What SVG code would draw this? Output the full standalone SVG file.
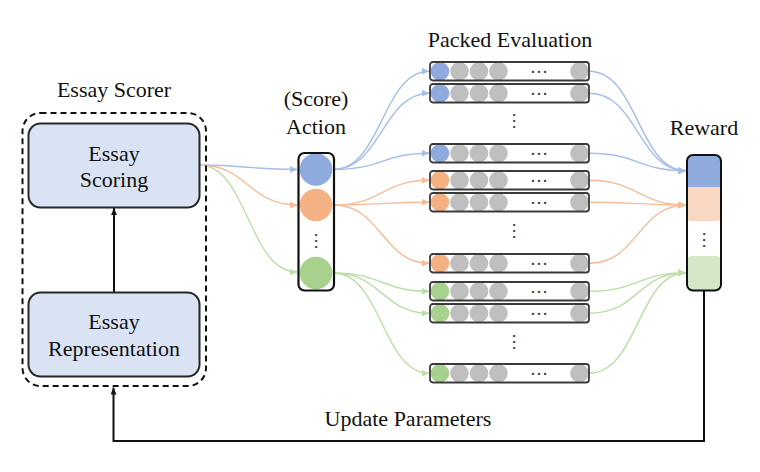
<svg xmlns="http://www.w3.org/2000/svg" width="760" height="472" viewBox="0 0 760 472">
  <style>
    .lbl { font-family: "Liberation Serif", "Times New Roman", serif; font-size: 22px; fill: #111; text-anchor: middle; }
    .dots { font-family: "Liberation Serif", "Times New Roman", serif; font-size: 18px; fill: #333; text-anchor: middle; }
    .box { fill: #DAE3F3; stroke: #262626; stroke-width: 2; }
    .row { fill: none; stroke: #3a3a3a; stroke-width: 1.8; }
    .gray { fill: #BFBFBF; }
    .blue { fill: #8FAADC; }
    .orange { fill: #F4B183; }
    .green { fill: #A9D18E; }
    .cb { fill: none; stroke: #A6BDE8; stroke-width: 1.4; marker-end: url(#arB); }
    .co { fill: none; stroke: #F6BC98; stroke-width: 1.4; marker-end: url(#arO); }
    .cg { fill: none; stroke: #BCDDA8; stroke-width: 1.4; marker-end: url(#arG); }
    .blk { fill: none; stroke: #111; stroke-width: 2; }
  </style>
  <defs>
    <marker id="arB" markerUnits="userSpaceOnUse" markerWidth="8" markerHeight="7" refX="8" refY="3.5" orient="auto"><path d="M0,0 L8,3.5 L0,7 z" fill="#A6BDE8"/></marker>
    <marker id="arO" markerUnits="userSpaceOnUse" markerWidth="8" markerHeight="7" refX="8" refY="3.5" orient="auto"><path d="M0,0 L8,3.5 L0,7 z" fill="#F6BC98"/></marker>
    <marker id="arG" markerUnits="userSpaceOnUse" markerWidth="8" markerHeight="7" refX="8" refY="3.5" orient="auto"><path d="M0,0 L8,3.5 L0,7 z" fill="#BCDDA8"/></marker>
    <marker id="arK" markerUnits="userSpaceOnUse" markerWidth="7" markerHeight="6" refX="7" refY="3" orient="auto"><path d="M0,0 L7,3 L0,6 z" fill="#111"/></marker>
    <clipPath id="rewardClip"><rect x="687" y="155" width="34" height="135.5" rx="6"/></clipPath>
    <!-- gray cells and ellipsis of a packed-evaluation row, drawn at origin -->
    <g id="rowBody">
      <circle class="gray" cx="29.5" cy="9.25" r="9.3"/>
      <circle class="gray" cx="49" cy="9.25" r="9.3"/>
      <circle class="gray" cx="68.5" cy="9.25" r="9.3"/>
      <circle class="gray" cx="149.5" cy="9.25" r="9.3"/>
      <text class="dots" x="109" y="11">…</text>
    </g>
  </defs>

  <!-- titles -->
  <text class="lbl" x="114" y="97">Essay Scorer</text>
  <text class="lbl" x="316" y="106">(Score)</text>
  <text class="lbl" x="316" y="134">Action</text>
  <text class="lbl" x="510" y="47">Packed Evaluation</text>
  <text class="lbl" x="704" y="135">Reward</text>
  <text class="lbl" x="408" y="426">Update Parameters</text>

  <!-- connectors -->
  <g id="connectors">
    <!-- scorer to action -->
    <path class="cb" d="M199,165 C248,165 248,169.5 297.5,169.5"/>
    <path class="co" d="M199,165 C248,165 248,205 297.5,205"/>
    <path class="cg" d="M199,165 C248,165 248,272 297.5,272"/>
    <!-- action to packed rows -->
    <path class="cb" d="M333,169.5 C382,169.5 382,71.3 429.5,71.3"/>
    <path class="cb" d="M333,169.5 C382,169.5 382,93.3 429.5,93.3"/>
    <path class="cb" d="M333,169.5 C382,169.5 382,153.3 429.5,153.3"/>
    <path class="co" d="M333,205 C382,205 382,180.3 429.5,180.3"/>
    <path class="co" d="M333,205 C382,205 382,202.3 429.5,202.3"/>
    <path class="co" d="M333,205 C382,205 382,263.3 429.5,263.3"/>
    <path class="cg" d="M333,273 C382,273 382,291.3 429.5,291.3"/>
    <path class="cg" d="M333,273 C382,273 382,313.3 429.5,313.3"/>
    <path class="cg" d="M333,273 C382,273 382,373.3 429.5,373.3"/>
    <!-- packed rows to reward -->
    <path class="cb" d="M589,71.3 C638,71.3 638,170.7 686,170.7"/>
    <path class="cb" d="M589,93.3 C638,93.3 638,170.7 686,170.7"/>
    <path class="cb" d="M589,153.3 C638,153.3 638,170.7 686,170.7"/>
    <path class="co" d="M589,180.3 C638,180.3 638,205 686,205"/>
    <path class="co" d="M589,202.3 C638,202.3 638,205 686,205"/>
    <path class="co" d="M589,263.3 C638,263.3 638,205 686,205"/>
    <path class="cg" d="M589,291.3 C638,291.3 638,272.7 686,272.7"/>
    <path class="cg" d="M589,313.3 C638,313.3 638,272.7 686,272.7"/>
    <path class="cg" d="M589,373.3 C638,373.3 638,272.7 686,272.7"/>
    <!-- representation to scoring -->
    <path class="blk" d="M114,292.5 L114,208" marker-end="url(#arK)"/>
    <!-- feedback loop -->
    <path class="blk" d="M704,290.5 L704,441 L113.5,441 L113.5,387.5" marker-end="url(#arK)"/>
  </g>

  <!-- essay scorer -->
  <g id="essay-scorer">
    <rect x="22.5" y="113" width="183.5" height="273" rx="18" fill="none" stroke="#111" stroke-width="2" stroke-dasharray="6,4"/>
  </g>
  <g id="essay-scoring">
    <rect class="box" x="28.5" y="123.5" width="171" height="84" rx="12"/>
    <text class="lbl" x="114" y="160.5">Essay</text>
    <text class="lbl" x="114" y="186.5">Scoring</text>
  </g>
  <g id="essay-representation">
    <rect class="box" x="28.5" y="292.5" width="171" height="84" rx="12"/>
    <text class="lbl" x="114" y="329">Essay</text>
    <text class="lbl" x="114" y="355.5">Representation</text>
  </g>

  <!-- action column -->
  <g id="action">
    <circle class="blue" cx="316" cy="169.5" r="16.3"/>
    <circle class="orange" cx="316" cy="205" r="16.3"/>
    <circle class="green" cx="316" cy="273" r="16.3"/>
    <text class="dots" transform="translate(315,241) rotate(90)" x="0" y="0">…</text>
    <rect x="298.5" y="153" width="35.5" height="137.5" rx="6" fill="none" stroke="#111" stroke-width="2.2"/>
  </g>

  <!-- packed evaluation rows -->
  <g id="packed-evaluation">
    <g id="row-b1" transform="translate(430,62)"><use href="#rowBody"/><circle class="blue" cx="10" cy="9.25" r="9.3"/><rect class="row" x="0" y="0" width="159" height="18.5" rx="3"/></g>
    <g id="row-b2" transform="translate(430,84)"><use href="#rowBody"/><circle class="blue" cx="10" cy="9.25" r="9.3"/><rect class="row" x="0" y="0" width="159" height="18.5" rx="3"/></g>
    <g id="row-b3" transform="translate(430,144)"><use href="#rowBody"/><circle class="blue" cx="10" cy="9.25" r="9.3"/><rect class="row" x="0" y="0" width="159" height="18.5" rx="3"/></g>
    <g id="row-o1" transform="translate(430,171)"><use href="#rowBody"/><circle class="orange" cx="10" cy="9.25" r="9.3"/><rect class="row" x="0" y="0" width="159" height="18.5" rx="3"/></g>
    <g id="row-o2" transform="translate(430,193)"><use href="#rowBody"/><circle class="orange" cx="10" cy="9.25" r="9.3"/><rect class="row" x="0" y="0" width="159" height="18.5" rx="3"/></g>
    <g id="row-o3" transform="translate(430,254)"><use href="#rowBody"/><circle class="orange" cx="10" cy="9.25" r="9.3"/><rect class="row" x="0" y="0" width="159" height="18.5" rx="3"/></g>
    <g id="row-g1" transform="translate(430,282)"><use href="#rowBody"/><circle class="green" cx="10" cy="9.25" r="9.3"/><rect class="row" x="0" y="0" width="159" height="18.5" rx="3"/></g>
    <g id="row-g2" transform="translate(430,304)"><use href="#rowBody"/><circle class="green" cx="10" cy="9.25" r="9.3"/><rect class="row" x="0" y="0" width="159" height="18.5" rx="3"/></g>
    <g id="row-g3" transform="translate(430,364)"><use href="#rowBody"/><circle class="green" cx="10" cy="9.25" r="9.3"/><rect class="row" x="0" y="0" width="159" height="18.5" rx="3"/></g>
    <text class="dots" transform="translate(513,121) rotate(90)" x="0" y="0">…</text>
    <text class="dots" transform="translate(513,231) rotate(90)" x="0" y="0">…</text>
    <text class="dots" transform="translate(513,342) rotate(90)" x="0" y="0">…</text>
  </g>

  <!-- reward column -->
  <g id="reward">
    <g clip-path="url(#rewardClip)">
      <rect x="687" y="180" width="34" height="41" rx="4" fill="#F9D8C3"/>
      <rect x="687" y="155" width="34" height="32" fill="#8FAADC"/>
      <rect x="687" y="256" width="34" height="40" rx="4" fill="#D4E7C7"/>
    </g>
    <text class="dots" transform="translate(703,240) rotate(90)" x="0" y="0">…</text>
    <rect x="687" y="155" width="34" height="135.5" rx="6" fill="none" stroke="#111" stroke-width="2"/>
  </g>
</svg>
